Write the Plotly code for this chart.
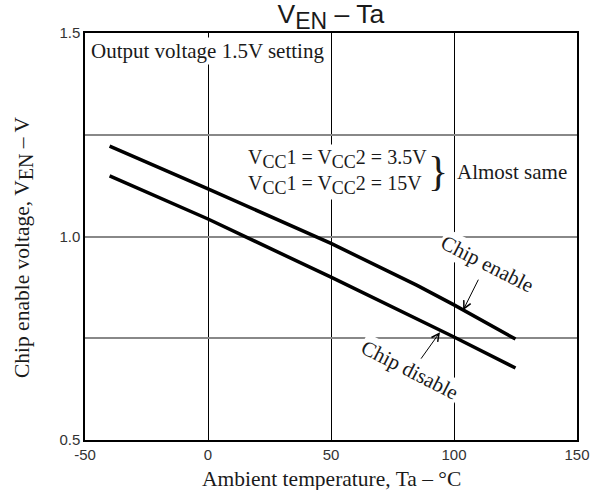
import plotly.graph_objects as go

# Data
temp_enable = [-40, 0, 50, 85, 100, 125]
v_enable = [1.222, 1.117, 0.983, 0.880, 0.832, 0.748]
temp_disable = [-40, 0, 50, 100, 125]
v_disable = [1.149, 1.043, 0.900, 0.753, 0.677]

x_ticks = [-50, 0, 50, 100, 150]
x_ticktext = ["-50", "0", "50", "100", "150"]
y_ticks = [0.5, 0.75, 1.0, 1.25, 1.5]
y_ticktext = ["0.5", "", "1.0", "", "1.5"]

SERIF = "Liberation Serif, Times New Roman, serif"
SANS = "Liberation Sans, Arial, sans-serif"
TXT = "#1a1a1a"

def sub(s, size):
    return "<sub><span style='font-size:%dpx'>%s</span></sub>" % (size, s)

fig = go.Figure()
fig.add_trace(go.Scatter(x=temp_enable, y=v_enable, mode="lines",
                         line=dict(color="black", width=3.5), showlegend=False))
fig.add_trace(go.Scatter(x=temp_disable, y=v_disable, mode="lines",
                         line=dict(color="black", width=3.5), showlegend=False))

vcc = "V" + sub("CC", 18)
ann = []
ann.append(dict(x=-48.2, y=1.456, xref="x", yref="y", xanchor="left", yanchor="middle",
                text="Output voltage 1.5V setting", showarrow=False,
                font=dict(family=SERIF, size=21, color=TXT), bgcolor="white", borderpad=1))
ann.append(dict(x=15.6, y=1.158, xref="x", yref="y", xanchor="left", yanchor="middle",
                text=vcc + "1 = " + vcc + "2 = 3.5V<br>" + vcc + "1 = " + vcc + "2 = 15V",
                align="left", showarrow=False,
                font=dict(family=SERIF, size=20, color=TXT), bgcolor="white", borderpad=1))
ann.append(dict(x=93.6, y=1.16, xref="x", yref="y", xanchor="center", yanchor="middle",
                text="}", showarrow=False,
                font=dict(family=SERIF, size=42, color=TXT)))
ann.append(dict(x=100.6, y=1.158, xref="x", yref="y", xanchor="left", yanchor="middle",
                text="Almost same", showarrow=False,
                font=dict(family=SERIF, size=21, color=TXT), bgcolor="white", borderpad=1))
ann.append(dict(x=113.6, y=0.933, xref="x", yref="y", text="Chip enable", textangle=27,
                showarrow=False, font=dict(family=SERIF, size=21, color=TXT), bgcolor="white"))
ann.append(dict(x=82.1, y=0.672, xref="x", yref="y", text="Chip disable", textangle=27,
                showarrow=False, font=dict(family=SERIF, size=21, color=TXT), bgcolor="white"))
ann.append(dict(x=103.7, y=0.819, xref="x", yref="y", text="", showarrow=True,
                ax=16, ay=-32, arrowhead=5, arrowsize=1.5, arrowwidth=1, arrowcolor="black"))
ann.append(dict(x=94.3, y=0.765, xref="x", yref="y", text="", showarrow=True,
                ax=-20, ay=28, arrowhead=5, arrowsize=1.5, arrowwidth=1, arrowcolor="black"))
# axis titles placed as paper annotations to sit where the reference has them
ann.append(dict(x=0.5, y=-0.097, xref="paper", yref="paper", xanchor="center", yanchor="middle",
                text="Ambient temperature, Ta – °C", showarrow=False,
                font=dict(family=SERIF, size=21.5, color=TXT)))
ann.append(dict(x=-0.124, y=0.474, xref="paper", yref="paper", xanchor="center", yanchor="middle",
                text="Chip enable voltage, V" + sub("EN", 20) + " – V", textangle=-90,
                showarrow=False, font=dict(family=SERIF, size=21.5, color=TXT)))

fig.update_layout(
    width=593, height=490,
    margin=dict(l=85, r=16, t=33, b=50, autoexpand=False),
    paper_bgcolor="white", plot_bgcolor="white",
    title=dict(text="V" + sub("EN", 23) + " – Ta",
               x=0.558, xanchor="center", y=0.99, yanchor="top",
               font=dict(family=SANS, size=26.5, color=TXT)),
    annotations=ann,
    xaxis=dict(range=[-50, 150], tickvals=x_ticks, ticktext=x_ticktext, showgrid=True,
               gridcolor="black", gridwidth=1, automargin=False,
               zeroline=False, showline=True, linecolor="black", linewidth=1.5, mirror=True,
               ticks="", tickfont=dict(family=SANS, size=15, color="#333")),
    yaxis=dict(range=[0.5, 1.5], tickvals=y_ticks, ticktext=y_ticktext, showgrid=True,
               automargin=False,
               gridcolor="#888", gridwidth=1.5, zeroline=False, showline=True, linecolor="black",
               linewidth=1.5, mirror=True, ticks="", tickfont=dict(family=SANS, size=15, color="#333")),
)

fig.write_html("out.html")
